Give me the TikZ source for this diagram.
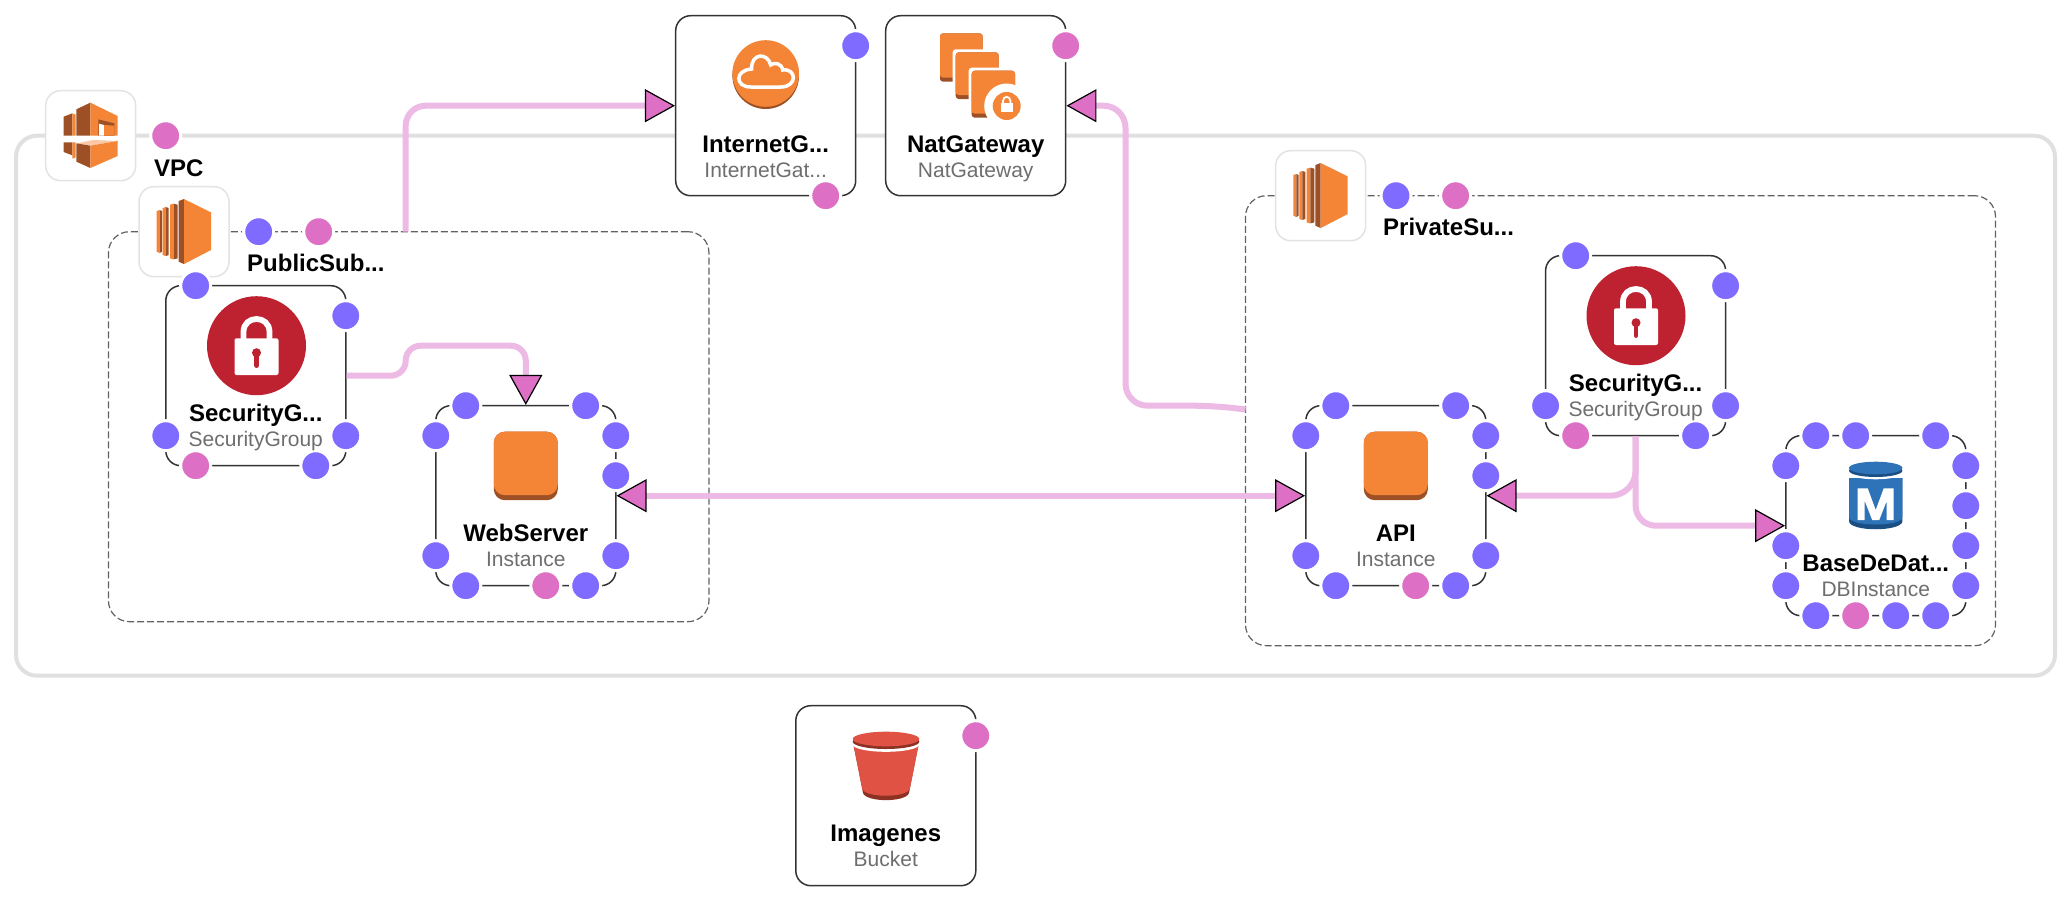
\documentclass[tikz,border=0pt]{standalone}
\usepackage{fontspec}
\setmainfont{Liberation Sans}
\usetikzlibrary{arrows.meta}
\definecolor{aport}{HTML}{DD70C4}
\definecolor{bport}{HTML}{7F6BFF}
\definecolor{edgepink}{HTML}{EDB9E5}
\definecolor{aorange}{HTML}{F58536}
\definecolor{adark}{HTML}{9D5025}
\definecolor{ared}{HTML}{BE2130}
\definecolor{ablue}{HTML}{2E73B8}
\definecolor{ablued}{HTML}{1B4F83}
\definecolor{bred}{HTML}{E05243}
\definecolor{breddk}{HTML}{8C3123}
\tikzset{
  bluep/.style={circle,minimum size=30pt,inner sep=0pt,fill=bport,draw=white,line width=3pt},
  pinkp/.style={circle,minimum size=30pt,inner sep=0pt,fill=aport,draw=white,line width=3pt},
  awsbox/.style={rectangle,rounded corners=15pt,minimum size=180pt,inner sep=0pt,fill=white,draw=black!80,line width=1.5pt},
  iconbox/.style={rectangle,rounded corners=15pt,minimum size=90pt,inner sep=0pt,fill=white,draw=black!11,line width=1.5pt},
  groupbox/.style={rectangle,rounded corners=21pt,inner sep=0pt,draw=black!62,line width=1.2pt,dash pattern=on 7pt off 3pt},
  vpcbox/.style={rectangle,rounded corners=21pt,inner sep=0pt,draw=black!12,line width=4pt},
  ttl/.style={anchor=base,inner sep=0pt,font=\fontsize{24}{28}\selectfont\bfseries,text=black},
  ttlw/.style={anchor=base west,inner sep=0pt,font=\fontsize{24}{28}\selectfont\bfseries,text=black},
  typ/.style={anchor=base,inner sep=0pt,font=\fontsize{21}{25}\selectfont,text=black!57},
  conn/.style={draw=edgepink,line width=6pt,line join=round},
  pinktip/.tip={Triangle[length=30pt,width=33pt,fill=aport,color=black,line width=1.2pt]},
}
\newcommand\bpt[3]{\node[bluep] (#1) at (#2,#3) {};}
\newcommand\ppt[3]{\node[pinkp] (#1) at (#2,#3) {};}
\newcommand\instanceicon[2]{%
  \fill[adark,rounded corners=11pt] (#1-32,#2) rectangle (#1+32,#2+68.5);
  \fill[aorange,rounded corners=11pt] (#1-32,#2) rectangle (#1+32,#2+63.5);}
\newcommand\lockicon[2]{%
  \begin{scope}[shift={(#1,#2)}]
  \fill[ared] (0,0) circle[radius=49.5];
  \draw[white,line width=5.8pt] (-13,-5) -- (-13,-13.8) .. controls (-13,-31) and (13,-31) .. (13,-13.8) -- (13,-5);
  \fill[white,rounded corners=2pt] (-22,-7.4) rectangle (22,29.3);
  \fill[ared] (0,7) circle[radius=4.5];
  \draw[ared,line width=4.5pt,line cap=round] (0,7) -- (0,20);
  \end{scope}}
\newcommand\subneticon[2]{%
  \begin{scope}[shift={(#1,#2)},x=0.33333pt,y=-0.33333pt]
  \fill[aorange] (53,73) -- (62,70) -- (62,199) -- (53,195) -- cycle;
  \fill[adark] (62,70) -- (69,73) -- (69,195) -- (62,199) -- cycle;
  \fill[aorange] (71,64) -- (80,61) -- (80,208) -- (71,205) -- cycle;
  \fill[adark] (80,61) -- (89,64) -- (89,205) -- (80,208) -- cycle;
  \fill[aorange] (93,54) -- (104,51) -- (104,218) -- (93,215) -- cycle;
  \fill[adark] (104,51) -- (116,54) -- (116,215) -- (104,218) -- cycle;
  \fill[adark] (119,43) -- (135,37) -- (135,232) -- (119,225) -- cycle;
  \fill[aorange] (135,37) -- (216,77) -- (216,190) -- (135,232) -- cycle;
  \end{scope}}
\begin{document}
\begin{tikzpicture}[x=1pt,y=-1pt]
\useasboundingbox (0,0) rectangle (2072,902);
\fill[white] (0,0) rectangle (2072,902);
% containers
\node[vpcbox,minimum width=2039pt,minimum height=540pt] (vpc) at (1035.5,405.7) {};
\node[groupbox,minimum width=600.5pt,minimum height=390pt] (pub) at (408.7,426.7) {};
\node[groupbox,minimum width=750pt,minimum height=450pt] (priv) at (1620.5,420.7) {};
\node[iconbox] (vpcicon) at (90.7,135.7) {};
\node[iconbox] (pubicon) at (184,231.7) {};
\node[iconbox] (privicon) at (1320.7,195.7) {};
% resource boxes
\node[awsbox] (igw) at (765.7,105.7) {};
\node[awsbox] (nat) at (975.7,105.7) {};
\node[awsbox] (sga) at (255.8,375.7) {};
\node[awsbox] (web) at (525.8,495.7) {};
\node[awsbox] (sgb) at (1635.6,345.7) {};
\node[awsbox] (api) at (1395.8,495.7) {};
\node[awsbox] (db) at (1875.8,525.7) {};
\node[awsbox] (bucket) at (885.8,795.7) {};
% connector ends on the groups
\coordinate (pubtop) at (405.7,231.7);
\coordinate (privw) at (1245.5,409.5);
% connectors
\draw[conn,-{pinktip},rounded corners=20pt] (pubtop) |- (igw.west);
\draw[conn,-{pinktip},rounded corners=15pt] (sga.east) -- (405.7,375.7) -- (405.7,345.7) -- (525.8,345.7) -- (web.north);
\draw[conn,-{pinktip},rounded corners=22pt] (privw) -- (1215,405.7) -- (1125.5,405.7) -- (1125.5,105.7) -- (nat.east);
\draw[conn,{pinktip}-{pinktip}] (api.west) -- (web.east);
\draw[conn,-{pinktip},rounded corners=25pt] (sgb.south) |- (api.east);
\draw[conn,-{pinktip},rounded corners=20pt] (sgb.south) |- (db.west);
% VPC icon
\begin{scope}[shift={(30,80)},x=0.33333pt,y=-0.33333pt]
\fill[adark] (101,110) -- (127,100) -- (127,167) -- (101,167) -- cycle;
\fill[aorange] (127,100) -- (137,104) -- (137,167) -- (127,167) -- cycle;
\fill[adark] (139,88) -- (181,68) -- (181,167) -- (139,167) -- cycle;
\fill[aorange] (181,68) -- (263,108) -- (263,167) -- (181,167) -- cycle;
\fill[adark] (205,118) -- (253,130) -- (253,167) -- (205,167) -- cycle;
\fill[white] (207,131) -- (222,135) -- (222,167) -- (207,167) -- cycle;
\fill[aorange] (222,135) -- (253,137) -- (253,167) -- (222,167) -- cycle;
\fill[aorange!45] (139,190) -- (190,180) -- (263,183) -- (181,197) -- cycle;
\fill[adark] (101,187) -- (127,187) -- (127,226) -- (101,216) -- cycle;
\fill[aorange] (127,187) -- (137,187) -- (137,232) -- (127,236) -- cycle;
\fill[adark] (139,190) -- (181,197) -- (181,264) -- (139,245) -- cycle;
\fill[aorange] (181,197) -- (263,183) -- (263,228) -- (181,264) -- cycle;
\end{scope}
\subneticon{139}{186.7}
\subneticon{1275.7}{150.7}
% InternetGateway icon
\fill[adark] (765.7,75.7) circle[radius=33.3];
\fill[aorange] (765.7,73.5) circle[radius=33.3];
\begin{scope}[shift={(765.7,73)}]
\draw[white,line width=3.5pt] (-15,14) -- (15,14) .. controls (32,14) and (31,-5) .. (17,-3) .. controls (16,-10) and (8,-11) .. (5,-8) .. controls (2,-21) and (-15,-20) .. (-14,-4) .. controls (-31,-3) and (-31,14) .. (-15,14) -- cycle;
\end{scope}
% NatGateway icon
\fill[adark,rounded corners=3pt] (940,33.3) rectangle (982.7,81.7);
\fill[aorange,rounded corners=3pt] (940,33.3) rectangle (982.7,77.7);
\fill[white,rounded corners=3pt] (952.7,49.3) rectangle (1001.7,102);
\fill[adark,rounded corners=3pt] (955.7,52.3) rectangle (998.7,99);
\fill[aorange,rounded corners=3pt] (955.7,52.3) rectangle (998.7,95);
\fill[white,rounded corners=3pt] (968.7,67.7) rectangle (1018,120.7);
\fill[adark,rounded corners=3pt] (971.7,70.7) rectangle (1015,117.7);
\fill[aorange,rounded corners=3pt] (971.7,70.7) rectangle (1015,113.7);
\fill[white] (1006.7,106) circle[radius=22.5];
\fill[aorange] (1006.7,106) circle[radius=14];
\draw[white,line width=1.8pt] (1003,104) -- (1003,101) .. controls (1003,95.5) and (1010.4,95.5) .. (1010.4,101) -- (1010.4,104);
\fill[white] (1000.7,102.7) rectangle (1012.7,111.7);
% security group icons
\lockicon{256.5}{345.7}
\lockicon{1636}{315.7}
% instance icons
\instanceicon{525.8}{431.7}
\instanceicon{1395.8}{431.7}
% DB icon
\begin{scope}[shift={(1875.7,496)}]
\fill[ablued] (-26.7,-18) -- (-26.7,25) .. controls (-26.7,36) and (26.7,36) .. (26.7,25) -- (26.7,-18) -- cycle;
\fill[ablue] (-26.7,-18) -- (-26.7,21) .. controls (-26.7,31) and (26.7,31) .. (26.7,21) -- (26.7,-18) -- cycle;
\fill[white] (0,-23) ellipse[x radius=26.7,y radius=6.3];
\fill[ablued] (0,-25.3) ellipse[x radius=26.7,y radius=6.3];
\fill[ablue] (0,-28) ellipse[x radius=26.7,y radius=6.3];
\fill[white] (-18,24) -- (-18,-7.7) -- (-8,-7.7) -- (0,14) -- (8,-7.7) -- (18,-7.7) -- (18,24) -- (11,24) -- (11,5) -- (3.5,24) -- (-3.5,24) -- (-11,5) -- (-11,24) -- cycle;
\end{scope}
% bucket icon
\begin{scope}[shift={(886,766)}]
\fill[breddk] (-32.7,-22) -- (-23,27) .. controls (-20,36.5) and (20,36.5) .. (23,27) -- (32.7,-22) -- cycle;
\fill[bred] (-32.7,-22) -- (-23.7,23) .. controls (-20,32) and (20,32) .. (23.7,23) -- (32.7,-22) -- cycle;
\fill[white] (0,-21.5) ellipse[x radius=33.3,y radius=7.3];
\fill[breddk] (0,-24.3) ellipse[x radius=33.3,y radius=7.3];
\fill[bred] (0,-27) ellipse[x radius=33.3,y radius=7.3];
\end{scope}
% ports
\ppt{vpcP}{165.7}{135.7}
\bpt{pubB}{258.7}{231.7}
\ppt{pubP}{318.7}{231.7}
\bpt{privB}{1396}{195.7}
\ppt{privP}{1455.6}{195.7}
\bpt{igwB}{855.7}{45.7}
\ppt{igwP}{825.7}{195.7}
\ppt{natP}{1065.7}{45.7}
\ppt{bucketP}{975.8}{735.7}
\bpt{sgaA}{195.7}{285.7}
\bpt{sgaB}{345.8}{315.7}
\bpt{sgaC}{165.8}{435.7}
\bpt{sgaD}{345.8}{435.7}
\ppt{sgaE}{195.7}{465.7}
\bpt{sgaF}{315.8}{465.7}
\bpt{webA}{465.8}{405.7}
\bpt{webB}{585.7}{405.7}
\bpt{webC}{435.8}{435.7}
\bpt{webD}{435.8}{555.7}
\bpt{webE}{615.8}{435.7}
\bpt{webF}{615.8}{475.7}
\bpt{webG}{615.8}{555.7}
\bpt{webH}{465.8}{585.7}
\ppt{webI}{545.8}{585.7}
\bpt{webJ}{585.7}{585.7}
\bpt{apiA}{1335.8}{405.7}
\bpt{apiB}{1455.7}{405.7}
\bpt{apiC}{1305.8}{435.7}
\bpt{apiD}{1305.8}{555.7}
\bpt{apiE}{1485.8}{435.7}
\bpt{apiF}{1485.8}{475.7}
\bpt{apiG}{1485.8}{555.7}
\bpt{apiH}{1335.8}{585.7}
\ppt{apiI}{1415.7}{585.7}
\bpt{apiJ}{1455.7}{585.7}
\bpt{sgbA}{1575.7}{255.7}
\bpt{sgbB}{1725.6}{285.7}
\bpt{sgbC}{1545.6}{405.7}
\bpt{sgbD}{1725.6}{405.7}
\ppt{sgbE}{1575.7}{435.7}
\bpt{sgbF}{1695.6}{435.7}
\bpt{dbA}{1815.8}{435.7}
\bpt{dbB}{1855.7}{435.7}
\bpt{dbC}{1935.7}{435.7}
\bpt{dbD}{1785.8}{465.7}
\bpt{dbE}{1785.8}{545.7}
\bpt{dbF}{1785.8}{585.7}
\bpt{dbG}{1965.8}{465.7}
\bpt{dbH}{1965.8}{505.7}
\bpt{dbI}{1965.8}{545.7}
\bpt{dbJ}{1965.8}{585.7}
\bpt{dbK}{1815.8}{615.7}
\ppt{dbL}{1855.7}{615.7}
\bpt{dbM}{1895.7}{615.7}
\bpt{dbN}{1935.7}{615.7}
% labels
\node[ttlw] (vpcT) at (154,176) {VPC};
\node[ttlw] (pubT) at (247,271.7) {PublicSub...};
\node[ttlw] (privT) at (1383,235.7) {PrivateSu...};
\node[ttl] (igwT) at (765.7,152) {InternetG...};
\node[typ] (igwS) at (765.7,177) {InternetGat...};
\node[ttl] (natT) at (975.7,152) {NatGateway};
\node[typ] (natS) at (975.7,177) {NatGateway};
\node[ttl] (sgaT) at (255.8,421) {SecurityG...};
\node[typ] (sgaS) at (255.8,446.7) {SecurityGroup};
\node[ttl] (webT) at (525.8,541) {WebServer};
\node[typ] (webS) at (525.8,566.7) {Instance};
\node[ttl] (sgbT) at (1635.6,391) {SecurityG...};
\node[typ] (sgbS) at (1635.6,416.7) {SecurityGroup};
\node[ttl] (apiT) at (1395.8,541) {API};
\node[typ] (apiS) at (1395.8,566.7) {Instance};
\node[ttl] (dbT) at (1875.8,571) {BaseDeDat...};
\node[typ] (dbS) at (1875.8,596.7) {DBInstance};
\node[ttl] (bucketT) at (885.8,841.5) {Imagenes};
\node[typ] (bucketS) at (885.8,866.7) {Bucket};
\end{tikzpicture}
\end{document}
